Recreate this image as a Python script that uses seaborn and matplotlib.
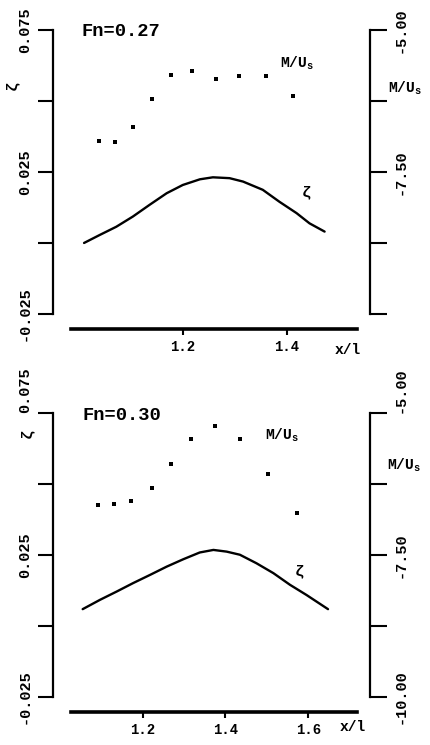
import matplotlib
matplotlib.use('Agg')
import matplotlib.pyplot as plt
import seaborn as sns

# ---- Fn = 0.27 ----
x_zeta_27 = [1.010, 1.040, 1.072, 1.104, 1.136, 1.169, 1.200, 1.233, 1.258,
             1.290, 1.316, 1.354, 1.386, 1.419, 1.444, 1.473]
zeta_27 = [0.0000, 0.0028, 0.0057, 0.0093, 0.0134, 0.0175, 0.0204, 0.0224, 0.0231,
           0.0228, 0.0216, 0.0187, 0.0145, 0.0105, 0.0069, 0.0040]
x_mu_27 = [1.039, 1.070, 1.104, 1.140, 1.177, 1.218, 1.263, 1.308, 1.360, 1.413]
mu_27 = [-6.95, -6.98, -6.71, -6.21, -5.79, -5.73, -5.86, -5.82, -5.81, -6.16]

# ---- Fn = 0.30 ----
x_zeta_30 = [1.055, 1.097, 1.137, 1.177, 1.218, 1.258, 1.298, 1.338, 1.371,
             1.403, 1.435, 1.475, 1.516, 1.556, 1.596, 1.648]
zeta_30 = [0.0059, 0.0092, 0.0121, 0.0151, 0.0180, 0.0209, 0.0235, 0.0259, 0.0268,
           0.0262, 0.0251, 0.0221, 0.0186, 0.0145, 0.0109, 0.0059]
x_mu_30 = [1.093, 1.131, 1.173, 1.222, 1.268, 1.318, 1.376, 1.435, 1.503, 1.572]
mu_30 = [-6.62, -6.60, -6.54, -6.31, -5.89, -5.45, -5.22, -5.46, -6.07, -6.75]

zeta_ticks = [0.075, 0.05, 0.025, 0.0, -0.025]
zeta_labels = ['0.075', '', '0.025', '', '-0.025']
mu_ticks = [-5.0, -6.25, -7.5, -8.75, -10.0]

sns.set_style('white')
plt.rcParams['font.family'] = ['Liberation Mono', 'DejaVu Sans Mono']
plt.rcParams['font.weight'] = 'bold'
plt.rcParams['mathtext.fontset'] = 'custom'
plt.rcParams['mathtext.rm'] = 'Liberation Mono:bold'
plt.rcParams['text.color'] = 'black'


def draw_panel(fig, rect, fn, xz, z, xm, m, xlim, xbounds, xticks, mu_labels, pos,
               top_va='center'):
    ax = fig.add_axes(rect)
    ax2 = ax.twinx()

    sns.lineplot(x=xz, y=z, ax=ax, color='black', linewidth=1.7)
    sns.scatterplot(x=xm, y=m, ax=ax2, marker='s', s=7, color='black', linewidth=0)

    ax.set_xlim(*xlim)
    ax.set_ylim(-0.025, 0.075)
    ax2.set_ylim(-10, -5)

    for s in ['top', 'right']:
        ax.spines[s].set_visible(False)
    for s in ['top', 'bottom', 'left']:
        ax2.spines[s].set_visible(False)
    ax.spines['left'].set_color('black')
    ax.spines['left'].set_linewidth(1.6)
    ax2.spines['right'].set_color('black')
    ax2.spines['right'].set_linewidth(1.6)
    ax.spines['bottom'].set_color('black')
    ax.spines['bottom'].set_linewidth(2.6)
    ax.spines['bottom'].set_position(('outward', 11))
    ax.spines['bottom'].set_bounds(*xbounds)

    ax.set_xticks(xticks)
    ax.set_xticklabels([f'{t:.1f}' for t in xticks])
    ax.tick_params(axis='x', direction='out', length=4, width=1.5, pad=4,
                   labelsize=10, colors='black', bottom=True)

    ax.set_yticks(zeta_ticks)
    ax.set_yticklabels(zeta_labels, rotation=90, va='center')
    ax.tick_params(axis='y', direction='out', length=11, width=1.5, pad=4,
                   labelsize=11, colors='black', left=True)

    ax2.set_yticks(mu_ticks)
    ax2.set_yticklabels(mu_labels, rotation=90, va='center')
    ax2.tick_params(axis='y', direction='out', length=12, width=1.5, pad=5,
                    labelsize=11, colors='black', right=True)

    # top labels sit above their tick where there is room
    ax.get_yticklabels()[0].set_va(top_va)
    ax2.get_yticklabels()[0].set_va(top_va)

    ax.set_xlabel('')
    ax.set_ylabel('')
    ax2.set_ylabel('')

    ax.text(pos['fn'][0], pos['fn'][1], fn, transform=ax.transAxes,
            fontsize=13.5, ha='left', va='center')
    ax.text(pos['mu_in'][0], pos['mu_in'][1], r'M/U$_\mathregular{s}$',
            transform=ax.transAxes, fontsize=10.5, ha='left', va='center')
    ax.text(pos['mu_out'][0], pos['mu_out'][1], r'M/U$_\mathregular{s}$',
            transform=ax.transAxes, fontsize=10.5, ha='left', va='center')
    ax.text(pos['zeta_in'][0], pos['zeta_in'][1], 'ζ', transform=ax.transAxes,
            fontsize=11, ha='left', va='center')
    ax.text(pos['zeta_out'][0], pos['zeta_out'][1], 'ζ', transform=ax.transAxes,
            fontsize=11, ha='center', va='center', rotation=90)
    ax.text(pos['xl'][0], pos['xl'][1], 'x/l', transform=ax.transAxes,
            fontsize=10.5, ha='center', va='center')
    return ax, ax2


fig = plt.figure(figsize=(4.3, 7.45), dpi=100)

draw_panel(fig, [0.123, 0.5785, 0.737, 0.3815], 'Fn=0.27',
           x_zeta_27, zeta_27, x_mu_27, mu_27,
           xlim=(0.95, 1.56), xbounds=(0.985, 1.535), xticks=[1.2, 1.4],
           mu_labels=['-5.00', '', '-7.50', '', ''],
           pos={'fn': (0.091, 0.993), 'mu_in': (0.716, 0.884), 'mu_out': (1.057, 0.796),
                'zeta_in': (0.785, 0.43), 'zeta_out': (-0.13, 0.806), 'xl': (0.93, -0.127)},
           top_va='center')

draw_panel(fig, [0.123, 0.0648, 0.737, 0.3804], 'Fn=0.30',
           x_zeta_30, zeta_30, x_mu_30, mu_30,
           xlim=(0.983, 1.749), xbounds=(1.027, 1.717), xticks=[1.2, 1.4, 1.6],
           mu_labels=['-5.00', '', '-7.50', '', '-10.00'],
           pos={'fn': (0.094, 0.994), 'mu_in': (0.669, 0.923), 'mu_out': (1.054, 0.818),
                'zeta_in': (0.763, 0.444), 'zeta_out': (-0.082, 0.93), 'xl': (0.946, -0.107)},
           top_va='bottom')

fig.savefig('out.png', dpi=100, facecolor='white')
